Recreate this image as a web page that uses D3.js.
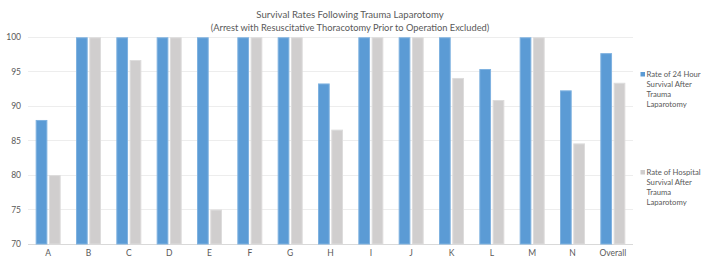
<!DOCTYPE html>
<html><head><meta charset="utf-8">
<script src="https://cdn.jsdelivr.net/npm/d3@7"></script>
<style>body{margin:0;background:#fff}svg{display:block}text{font-family:"Lato","Liberation Sans",sans-serif}</style>
</head><body><svg id="c" width="701" height="259"></svg>
<script>
const categories = ["A","B","C","D","E","F","G","H","I","J","K","L","M","N","Overall"];
const survival24h = [88,100,100,100,100,100,100,93.3,100,100,100,95.4,100,92.3,97.7];
const survivalHospital = [80,100,96.7,100,75,100,100,86.6,100,100,94.1,90.9,100,84.6,93.4];
const seriesNames = ["Rate of 24 Hour Survival After Trauma Laparotomy","Rate of Hospital Survival After Trauma Laparotomy"];
const legendLines = [["Rate of 24 Hour","Survival After","Trauma","Laparotomy"],["Rate of Hospital","Survival After","Trauma","Laparotomy"]];
const yTicks = [70,75,80,85,90,95,100];
const titleLines = ["Survival Rates Following Trauma Laparotomy","(Arrest with Resuscitative Thoracotomy Prior to Operation Excluded)"];

const colors = ["#5B9BD5","#D0CECE"];
const strokes = ["#7FB2E0","#DDDCDC"];
const svg = d3.select("#c");
const pL = 28, pR = 633, pT = 37.3, pB = 244;
const x = d3.scaleBand().domain(categories).range([pL,pR]).padding(0);
const y = d3.scaleLinear().domain([70,100]).range([pB,pT]);
const groupW = 25;
const sub = d3.scaleBand().domain([0,1]).range([0,groupW]).paddingInner(0.12);

// grid
svg.append("g").selectAll("line").data(yTicks).join("line")
  .attr("x1",pL).attr("x2",pR).attr("y1",d=>y(d)).attr("y2",d=>y(d))
  .attr("stroke",d=>d===70?"#D9D9D9":"#EDEDED").attr("stroke-width",1).attr("shape-rendering","crispEdges");

// y labels
svg.append("g").selectAll("text").data(yTicks).join("text")
  .attr("x",21).attr("y",d=>y(d)).attr("dy","0.35em").attr("text-anchor","end")
  .attr("font-size",8.5).attr("fill","#595959").text(d=>d);

// x labels
svg.append("g").selectAll("text").data(categories).join("text")
  .attr("x",d=>x(d)+x.bandwidth()/2).attr("y",256).attr("text-anchor","middle")
  .attr("font-size",8.5).attr("fill","#595959").text(d=>d);

const series = [survival24h, survivalHospital];
series.forEach((vals,si)=>{
  svg.append("g").selectAll("rect").data(categories).join("rect")
    .attr("x",(d)=>x(d)+(x.bandwidth()-groupW)/2+sub(si)+0.5)
    .attr("width",sub.bandwidth()-1)
    .attr("y",(d,i)=>y(vals[i])+0.5)
    .attr("height",(d,i)=>y(70)-y(vals[i])-0.5)
    .attr("fill",colors[si]).attr("stroke",strokes[si]).attr("stroke-width",1);
});

// title
svg.append("g").selectAll("text").data(titleLines).join("text")
  .attr("x",350).attr("y",(d,i)=>18+i*12.5).attr("text-anchor","middle")
  .attr("font-size",(d,i)=>i?9.3:9.6).attr("fill","#595959").text(d=>d);

// legend
const legY = [74.5,172.5];
legendLines.forEach((lines,si)=>{
  const g = svg.append("g");
  g.append("rect").attr("x",640.5).attr("y",legY[si]-2.5).attr("width",4.5).attr("height",4.5).attr("fill",colors[si]);
  g.selectAll("text").data(lines).join("text")
    .attr("x",646.5).attr("y",(d,i)=>legY[si]+i*10.1).attr("dy","0.35em")
    .attr("font-size",7.7).attr("fill","#595959").text(d=>d);
});
</script></body></html>
